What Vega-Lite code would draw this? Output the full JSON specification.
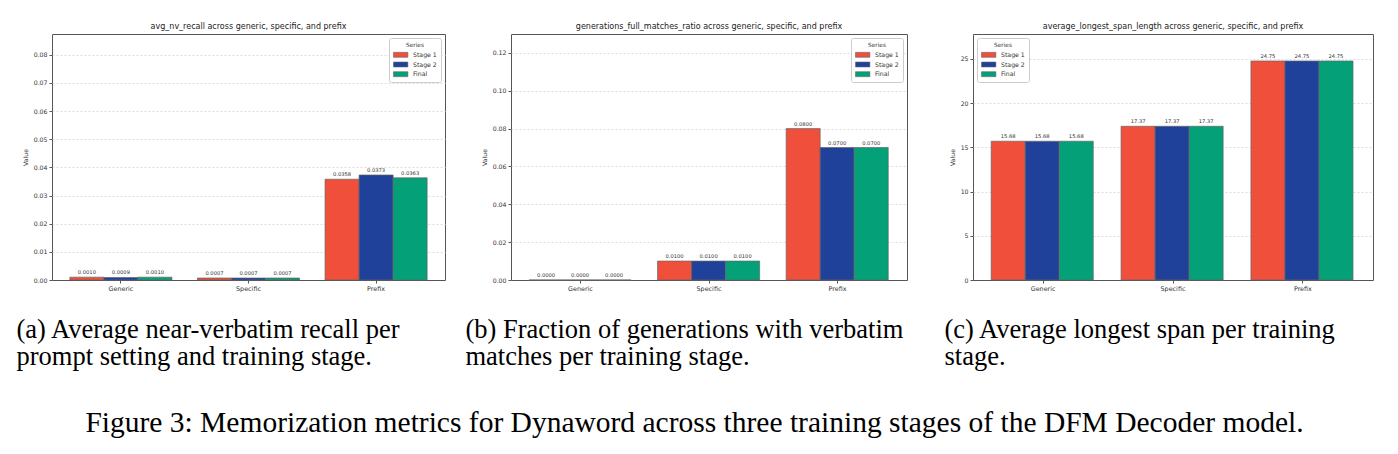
{
  "$schema": "https://vega.github.io/schema/vega-lite/v6.json",
  "padding": {"left": 15, "top": 22, "right": 5, "bottom": 5},
  "bounds": "flush",
  "spacing": 66,
  "title": {
    "text": "Figure 3: Memorization metrics for Dynaword across three training stages of the DFM Decoder model.",
    "orient": "bottom",
    "anchor": "middle",
    "font": "Liberation Serif",
    "fontSize": 29.5,
    "fontWeight": "normal",
    "color": "black",
    "offset": 38
  },
  "datasets": {
    "a": [
      {"cat": "Generic", "series": "Stage 1", "value": 0.0010},
      {"cat": "Generic", "series": "Stage 2", "value": 0.0009},
      {"cat": "Generic", "series": "Final", "value": 0.0010},
      {"cat": "Specific", "series": "Stage 1", "value": 0.0007},
      {"cat": "Specific", "series": "Stage 2", "value": 0.0007},
      {"cat": "Specific", "series": "Final", "value": 0.0007},
      {"cat": "Prefix", "series": "Stage 1", "value": 0.0358},
      {"cat": "Prefix", "series": "Stage 2", "value": 0.0373},
      {"cat": "Prefix", "series": "Final", "value": 0.0363}
    ],
    "b": [
      {"cat": "Generic", "series": "Stage 1", "value": 0.0},
      {"cat": "Generic", "series": "Stage 2", "value": 0.0},
      {"cat": "Generic", "series": "Final", "value": 0.0},
      {"cat": "Specific", "series": "Stage 1", "value": 0.01},
      {"cat": "Specific", "series": "Stage 2", "value": 0.01},
      {"cat": "Specific", "series": "Final", "value": 0.01},
      {"cat": "Prefix", "series": "Stage 1", "value": 0.08},
      {"cat": "Prefix", "series": "Stage 2", "value": 0.07},
      {"cat": "Prefix", "series": "Final", "value": 0.07}
    ],
    "c": [
      {"cat": "Generic", "series": "Stage 1", "value": 15.68},
      {"cat": "Generic", "series": "Stage 2", "value": 15.68},
      {"cat": "Generic", "series": "Final", "value": 15.68},
      {"cat": "Specific", "series": "Stage 1", "value": 17.37},
      {"cat": "Specific", "series": "Stage 2", "value": 17.37},
      {"cat": "Specific", "series": "Final", "value": 17.37},
      {"cat": "Prefix", "series": "Stage 1", "value": 24.75},
      {"cat": "Prefix", "series": "Stage 2", "value": 24.75},
      {"cat": "Prefix", "series": "Final", "value": 24.75}
    ]
  },
  "resolve": {"scale": {"color": "independent"}, "legend": {"color": "independent"}},
  "hconcat": [
    {
      "width": 393,
      "height": 246,
      "title": {"text": "avg_nv_recall across generic, specific, and prefix"},
      "data": {"name": "a"},
      "encoding": {
        "x": {"field": "cat", "type": "nominal", "sort": ["Generic", "Specific", "Prefix"],
              "scale": {"paddingInner": 0.2, "paddingOuter": 0.14},
              "axis": {"title": ["(a) Average near-verbatim recall per", "prompt setting and training stage."], "titleX": -36}},
        "xOffset": {"field": "series", "type": "nominal", "sort": ["Stage 1", "Stage 2", "Final"], "scale": {"paddingInner": 0, "paddingOuter": 0}},
        "y": {"field": "value", "type": "quantitative", "scale": {"domain": [0, 0.0874], "nice": false},
              "axis": {"title": "Value", "values": [0, 0.01, 0.02, 0.03, 0.04, 0.05, 0.06, 0.07, 0.08], "format": ".2f"}}
      },
      "layer": [
        {"mark": {"type": "bar", "stroke": "#666666", "strokeWidth": 0.7},
         "encoding": {"color": {"field": "series", "type": "nominal", "sort": ["Stage 1", "Stage 2", "Final"],
           "scale": {"domain": ["Stage 1", "Stage 2", "Final"], "range": ["#EF4F3B", "#20419A", "#04A078"]},
           "legend": {"title": "Series", "orient": "top-right"}}}},
        {"mark": {"type": "text", "dy": -5, "fontSize": 5.2, "color": "#333333"},
         "encoding": {"text": {"field": "value", "type": "quantitative", "format": ".4f"}}}
      ]
    },
    {
      "width": 396,
      "height": 246,
      "title": {"text": "generations_full_matches_ratio across generic, specific, and prefix"},
      "data": {"name": "b"},
      "encoding": {
        "x": {"field": "cat", "type": "nominal", "sort": ["Generic", "Specific", "Prefix"],
              "scale": {"paddingInner": 0.2, "paddingOuter": 0.14},
              "axis": {"title": ["(b) Fraction of generations with verbatim", "matches per training stage."], "titleX": -46}},
        "xOffset": {"field": "series", "type": "nominal", "sort": ["Stage 1", "Stage 2", "Final"], "scale": {"paddingInner": 0, "paddingOuter": 0}},
        "y": {"field": "value", "type": "quantitative", "scale": {"domain": [0, 0.13], "nice": false},
              "axis": {"title": "Value", "values": [0, 0.02, 0.04, 0.06, 0.08, 0.10, 0.12], "format": ".2f"}}
      },
      "layer": [
        {"mark": {"type": "bar", "stroke": "#666666", "strokeWidth": 0.7},
         "encoding": {"color": {"field": "series", "type": "nominal", "sort": ["Stage 1", "Stage 2", "Final"],
           "scale": {"domain": ["Stage 1", "Stage 2", "Final"], "range": ["#EF4F3B", "#20419A", "#04A078"]},
           "legend": {"title": "Series", "orient": "top-right"}}}},
        {"mark": {"type": "text", "dy": -5, "fontSize": 5.2, "color": "#333333"},
         "encoding": {"text": {"field": "value", "type": "quantitative", "format": ".4f"}}}
      ]
    },
    {
      "width": 400,
      "height": 246,
      "title": {"text": "average_longest_span_length across generic, specific, and prefix"},
      "data": {"name": "c"},
      "encoding": {
        "x": {"field": "cat", "type": "nominal", "sort": ["Generic", "Specific", "Prefix"],
              "scale": {"paddingInner": 0.2, "paddingOuter": 0.14},
              "axis": {"title": ["(c) Average longest span per training", "stage."], "titleX": -29}},
        "xOffset": {"field": "series", "type": "nominal", "sort": ["Stage 1", "Stage 2", "Final"], "scale": {"paddingInner": 0, "paddingOuter": 0}},
        "y": {"field": "value", "type": "quantitative", "scale": {"domain": [0, 27.8], "nice": false},
              "axis": {"title": "Value", "values": [0, 5, 10, 15, 20, 25], "format": "d"}}
      },
      "layer": [
        {"mark": {"type": "bar", "stroke": "#666666", "strokeWidth": 0.7},
         "encoding": {"color": {"field": "series", "type": "nominal", "sort": ["Stage 1", "Stage 2", "Final"],
           "scale": {"domain": ["Stage 1", "Stage 2", "Final"], "range": ["#EF4F3B", "#20419A", "#04A078"]},
           "legend": {"title": "Series", "orient": "top-left"}}}},
        {"mark": {"type": "text", "dy": -5, "fontSize": 5.2, "color": "#333333"},
         "encoding": {"text": {"field": "value", "type": "quantitative", "format": ".2f"}}}
      ]
    }
  ],
  "config": {
    "font": "DejaVu Sans",
    "view": {"stroke": "#555555", "strokeWidth": 1},
    "title": {"font": "DejaVu Sans", "fontSize": 8, "fontWeight": "normal", "color": "#222222", "offset": 3},
    "axis": {
      "labelFont": "DejaVu Sans", "labelFontSize": 6.2, "labelColor": "#333333",
      "tickColor": "#555555", "tickSize": 3, "domain": false,
      "titleFont": "DejaVu Sans", "titleFontWeight": "normal", "titleColor": "#333333"
    },
    "axisY": {"grid": true, "gridDash": [2, 2], "gridColor": "#dddddd",
              "gridOpacity": {"condition": {"test": "datum.value === 0", "value": 0}, "value": 1},
              "titleFontSize": 6.2, "titlePadding": 5, "labelPadding": 2},
    "axisX": {
      "grid": false, "labelAngle": 0, "labelPadding": 2, "labelFontSize": 6.4,
      "titleFont": "Liberation Serif", "titleFontSize": 26.5, "titleAlign": "left",
      "titleLineHeight": 27.5, "titleColor": "black", "titlePadding": 25
    },
    "legend": {
      "titleFont": "DejaVu Sans", "titleFontSize": 5.8, "titleFontWeight": "normal", "titleColor": "#333333", "titleAnchor": "middle", "titlePadding": 2,
      "labelFont": "DejaVu Sans", "labelFontSize": 6.2, "labelColor": "#333333", "labelOffset": 10,
      "symbolType": "M-1,-0.55H2.2V0.55H-1Z", "symbolSize": 81, "symbolStrokeColor": "#666666", "symbolStrokeWidth": 0.6, "symbolOpacity": 1,
      "rowPadding": 0.7, "padding": 4, "offset": 4,
      "strokeColor": "#cccccc", "fillColor": "white", "cornerRadius": 2
    }
  }
}
